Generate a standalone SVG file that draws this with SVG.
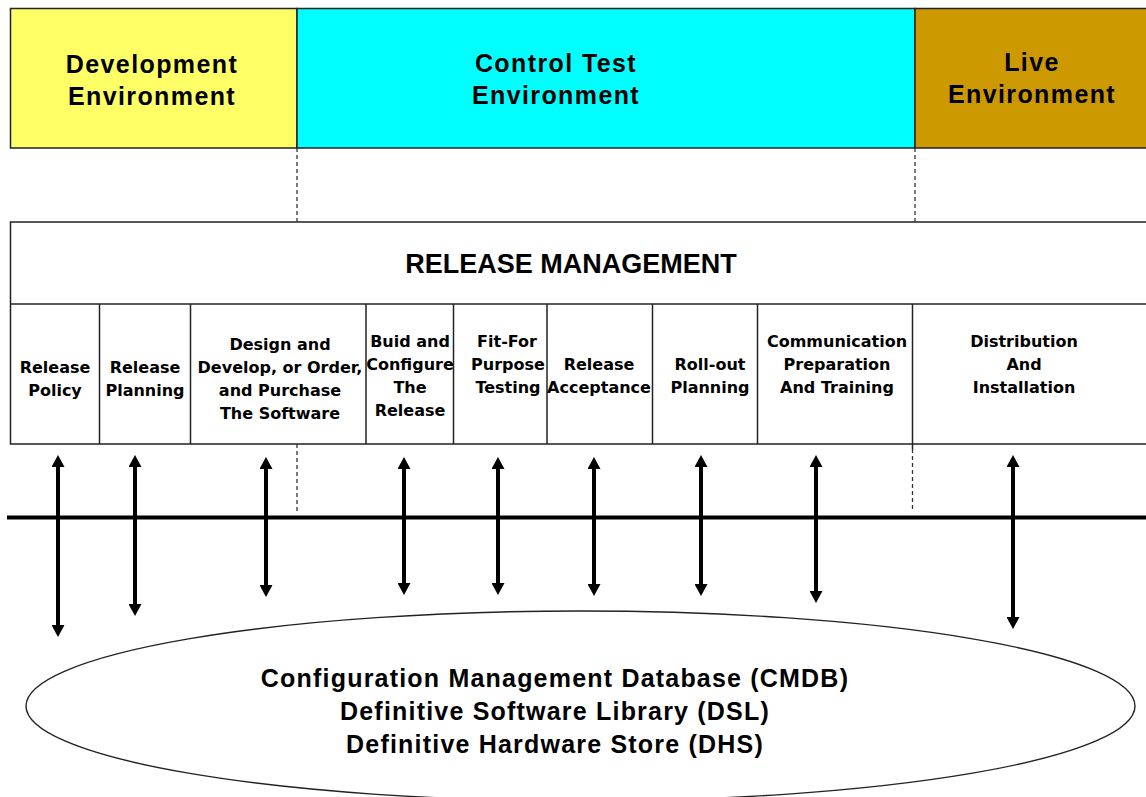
<svg xmlns="http://www.w3.org/2000/svg" width="1146" height="797" viewBox="0 0 1146 797">
  <style>
    .box { stroke: #222; stroke-width: 1.5; }
    .env { font-family: "Liberation Sans", Arial, sans-serif; font-weight: bold; font-size: 25px; letter-spacing: 1.4px; fill: #000; text-anchor: middle; }
    .title { font-family: "Liberation Sans", Arial, sans-serif; font-weight: bold; font-size: 27px; fill: #000; text-anchor: middle; }
    .cell { font-family: "DejaVu Sans", Verdana, sans-serif; font-weight: bold; font-size: 16px; fill: #000; text-anchor: middle; }
    .store { font-family: "Liberation Sans", Arial, sans-serif; font-weight: bold; font-size: 25px; letter-spacing: 1.2px; fill: #000; text-anchor: middle; }
    .dash { stroke: #333; stroke-width: 1.3; stroke-dasharray: 4 3; fill: none; }
    .div { stroke: #222; stroke-width: 1.5; }
    .arrow { stroke: #000; stroke-width: 4; marker-start: url(#head); marker-end: url(#head); }
  </style>
  <defs>
    <marker id="head" markerUnits="userSpaceOnUse" markerWidth="13" markerHeight="13" refX="6" refY="6.5" orient="auto-start-reverse">
      <path d="M0,0 L12,6.5 L0,13 z" fill="#000"/>
    </marker>
  </defs>

  <rect width="1146" height="797" fill="#fff"/>

  <!-- environment bands -->
  <g id="env-development">
    <rect class="box" x="10.5" y="8.5" width="286.5" height="139.5" fill="#FFFF66"/>
    <text class="env" x="152" y="73">Development</text>
    <text class="env" x="152" y="105">Environment</text>
  </g>
  <g id="env-control-test">
    <rect class="box" x="297" y="8.5" width="618" height="139.5" fill="#00FFFF"/>
    <text class="env" x="556" y="72">Control Test</text>
    <text class="env" x="556" y="104">Environment</text>
  </g>
  <g id="env-live">
    <rect class="box" x="915" y="8.5" width="240" height="139.5" fill="#CC9900"/>
    <text class="env" x="1032" y="71">Live</text>
    <text class="env" x="1032" y="103">Environment</text>
  </g>

  <!-- release management frame -->
  <g id="release-management">
    <rect class="box" x="10.5" y="222" width="1150" height="222" fill="#fff"/>
    <line class="div" x1="10.5" y1="304" x2="1146" y2="304"/>
    <text class="title" x="571" y="273">RELEASE MANAGEMENT</text>
  </g>

  <!-- process cells -->
  <g id="cell-release-policy">
    <text class="cell" x="55" y="373">Release</text>
    <text class="cell" x="55" y="396">Policy</text>
  </g>
  <g id="cell-release-planning">
    <line class="div" x1="99.5" y1="304" x2="99.5" y2="444"/>
    <text class="cell" x="145" y="373">Release</text>
    <text class="cell" x="145" y="396">Planning</text>
  </g>
  <g id="cell-design-develop">
    <line class="div" x1="190.5" y1="304" x2="190.5" y2="444"/>
    <text class="cell" x="280" y="350">Design and</text>
    <text class="cell" x="280" y="373">Develop, or Order,</text>
    <text class="cell" x="280" y="396">and Purchase</text>
    <text class="cell" x="280" y="419">The Software</text>
  </g>
  <g id="cell-build-configure">
    <line class="div" x1="366" y1="304" x2="366" y2="444"/>
    <text class="cell" x="410" y="347">Buid and</text>
    <text class="cell" x="410" y="370">Configure</text>
    <text class="cell" x="410" y="393">The</text>
    <text class="cell" x="410" y="416">Release</text>
  </g>
  <g id="cell-fit-for-purpose">
    <line class="div" x1="453.5" y1="304" x2="453.5" y2="444"/>
    <text class="cell" x="507" y="347">Fit-For</text>
    <text class="cell" x="508" y="370">Purpose</text>
    <text class="cell" x="508" y="393">Testing</text>
  </g>
  <g id="cell-release-acceptance">
    <line class="div" x1="547" y1="304" x2="547" y2="444"/>
    <text class="cell" x="599" y="370">Release</text>
    <text class="cell" x="599" y="393">Acceptance</text>
  </g>
  <g id="cell-rollout-planning">
    <line class="div" x1="652.5" y1="304" x2="652.5" y2="444"/>
    <text class="cell" x="710" y="370">Roll-out</text>
    <text class="cell" x="710" y="393">Planning</text>
  </g>
  <g id="cell-communication">
    <line class="div" x1="757.5" y1="304" x2="757.5" y2="444"/>
    <text class="cell" x="837" y="347">Communication</text>
    <text class="cell" x="837" y="370">Preparation</text>
    <text class="cell" x="837" y="393">And Training</text>
  </g>
  <g id="cell-distribution">
    <line class="div" x1="912.5" y1="304" x2="912.5" y2="449"/>
    <text class="cell" x="1024" y="347">Distribution</text>
    <text class="cell" x="1024" y="370">And</text>
    <text class="cell" x="1024" y="393">Installation</text>
  </g>

  <!-- configuration store -->
  <g id="cmdb-store">
    <ellipse cx="580.5" cy="706" rx="554.5" ry="95" fill="#fff" stroke="#222" stroke-width="1.4"/>
    <text class="store" x="555" y="687">Configuration Management Database (CMDB)</text>
    <text class="store" x="555" y="720">Definitive Software Library (DSL)</text>
    <text class="store" x="555" y="753">Definitive Hardware Store (DHS)</text>
  </g>

  <!-- connectors -->
  <g id="connectors">
    <!-- environment boundaries -->
    <line class="dash" x1="297" y1="148" x2="297" y2="222"/>
    <line class="dash" x1="915" y1="148" x2="915" y2="222"/>
    <line class="dash" x1="297" y1="444" x2="297" y2="512"/>
    <line class="dash" x1="912.5" y1="449" x2="912.5" y2="512"/>
    <!-- bus -->
    <line x1="7" y1="517.5" x2="1146" y2="517.5" stroke="#000" stroke-width="4"/>
    <!-- two-way flows -->
    <line class="arrow" x1="58" y1="461" x2="58" y2="631"/>
    <line class="arrow" x1="135" y1="461" x2="135" y2="610"/>
    <line class="arrow" x1="266" y1="463" x2="266" y2="591"/>
    <line class="arrow" x1="404" y1="463" x2="404" y2="589"/>
    <line class="arrow" x1="498" y1="463" x2="498" y2="589"/>
    <line class="arrow" x1="594" y1="463" x2="594" y2="590"/>
    <line class="arrow" x1="701" y1="461" x2="701" y2="590"/>
    <line class="arrow" x1="816" y1="461" x2="816" y2="597"/>
    <line class="arrow" x1="1013" y1="461" x2="1013" y2="623"/>
  </g>
</svg>
